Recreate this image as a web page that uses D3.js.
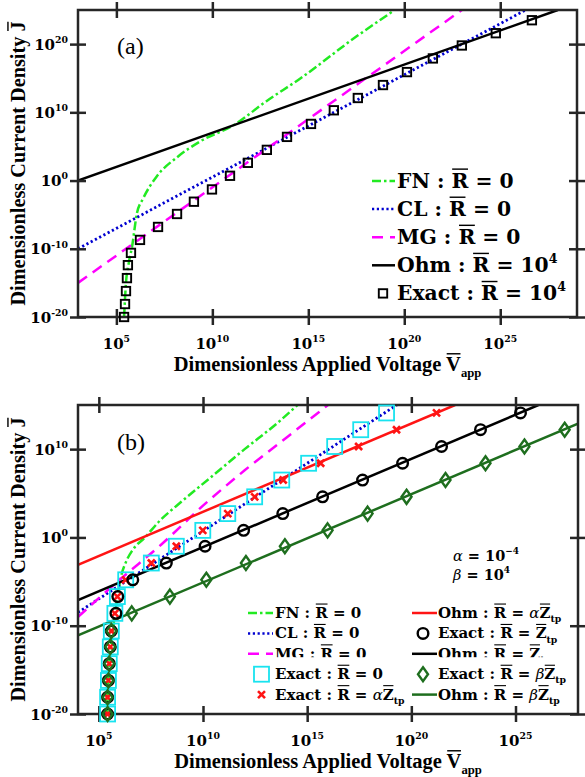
<!DOCTYPE html>
<html><head><meta charset="utf-8">
<script src="https://cdn.jsdelivr.net/npm/d3@7"></script>
<style>body{margin:0;background:#fff}</style>
</head><body>
<svg id="c" width="585" height="777" xmlns="http://www.w3.org/2000/svg"></svg>
<script>
// ================= DATA (log10 exponents) =================
const xTickExp  = [5, 10, 15, 20, 25];
const yTickExpA = [-20, -10, 0, 10, 20];
const yTickExpB = [-20, -10, 0, 10];

// ---- Panel (a) ----
const fnA_logV = [5.40, 5.50, 5.65, 5.81, 6.07, 6.40, 7.10, 8.20, 9.40, 11.1, 12.8, 14.6, 17.5, 19.4];
const fnA_logJ = [-20, -15, -12, -9.8, -4.8, -2.6, 0.6, 3.5, 5.8, 8.1, 11.6, 15.0, 21.1, 24.8];
const clA_logV = [3, 26.33];
const clA_logJ = [-10, 25];
const mgA_logV = [3, 23];
const mgA_logJ = [-15, 25];
const ohmA_logV = [3, 28];
const ohmA_logJ = [0, 25];
const exactA_logV = [5.40, 5.45, 5.50, 5.55, 5.60, 5.76, 6.23, 7.17, 8.16, 9.04, 9.98, 10.92, 11.85, 12.84, 13.89, 15.14, 16.33, 17.58, 18.89, 20.14, 21.49, 23.0, 24.77, 26.65];
const exactA_logJ = [-20, -18.1, -16.2, -14.3, -12.4, -10.6, -8.7, -6.8, -4.9, -3.1, -1.3, 0.7, 2.6, 4.5, 6.4, 8.3, 10.3, 12.1, 14.0, 15.9, 17.9, 19.8, 21.6, 23.5];

// ---- Panel (b) ----
const fnB_logV = [5.40, 5.45, 5.55, 5.70, 5.85, 6.06, 6.30, 6.63, 7.21, 7.97, 8.79, 10.37, 12.0, 13.59, 14.4, 15.0];
const fnB_logJ = [-20, -16, -13, -10, -7.5, -4.5, -2.8, -1.4, 0.0, 2.0, 3.7, 6.8, 10.0, 13.0, 14.7, 16];
const clB_logV = [4, 19.3];
const clB_logJ = [-8.5, 15];
const mgB_logV = [4, 6, 8, 10, 12, 14, 16];
const mgB_logJ = [-9, -4.8, -0.8, 3.6, 7.6, 11.3, 15];
const ohmRedB_logV = [4, 22.1];
const ohmRedB_logJ = [-3.1, 15];
const ohmBlackB_logV = [4, 26.1];
const ohmBlackB_logJ = [-7.1, 15];
const ohmGreenB_logV = [4, 28];
const ohmGreenB_logJ = [-11.1, 12.9];
const exactB_logJ = [-20, -18.1, -16.2, -14.3, -12.4, -10.6, -8.6, -6.7, -4.8, -2.9, -1.0, 0.8, 2.7, 4.6, 6.5, 8.4, 10.3, 12.2, 14.1];
const exact0B_logV     = [5.42, 5.42, 5.46, 5.50, 5.55, 5.60, 5.77, 5.89, 6.29, 7.52, 8.72, 9.99, 11.19, 12.48, 13.78, 15.07, 16.32, 17.57, 18.81];
const exactAlphaB_logV = [5.42, 5.42, 5.46, 5.50, 5.55, 5.60, 5.77, 5.89, 6.29, 7.52, 8.72, 9.99, 11.19, 12.48, 13.85, 15.65, 17.47, 19.29, 21.21];
const exactZB_logV     = [5.42, 5.42, 5.46, 5.50, 5.55, 5.60, 5.82, 5.91, 6.63, 8.24, 10.1, 11.95, 13.83, 15.74, 17.66, 19.58, 21.45, 23.32, 25.24];
const exactBetaB_logV  = [5.42, 5.42, 5.46, 5.50, 5.55, 5.60, 6.58, 8.41, 10.16, 12.06, 13.93, 15.98, 17.9, 19.77, 21.64, 23.56, 25.43, 27.36];

// ================= STYLE =================
const C_FN = '#22ea22', C_CL = '#0000d0', C_MG = '#ff00ff', C_RED = '#ff1414',
      C_DKG = '#1e6e1e', C_CYAN = '#19e3ef', C_AX = '#262626';
const D_FN = '9,3,2.5,3', D_CL = '2.2,2.6', D_MG = '11,7';
const SERIF = "'DejaVu Serif', serif";
const TIMES = "'Liberation Serif', 'Times New Roman', serif";

const svg = d3.select('#c');
const defs = svg.append('defs');
const toPts = (lv, lj) => lv.map((v, i) => [Math.pow(10, v), Math.pow(10, lj[i])]);

// rich text with superscript / subscript / overline
function rich(parent, x, y, segs, o) {
  const size = o.size;
  const t = parent.append('text').attr('x', x).attr('y', y)
    .attr('font-size', size).attr('font-family', o.family || SERIF)
    .attr('font-weight', o.weight || 'bold').attr('text-anchor', o.anchor || 'start')
    .attr('fill', o.fill || '#000');
  let shift = 0, idx = 0;
  const overs = [];
  segs.forEach(s => {
    const sp = t.append('tspan').text(s.t);
    let target = 0, fs = size;
    if (s.sup) { target = -size * 0.45; fs = size * 0.62; }
    if (s.sub) { target = size * 0.28; fs = size * 0.62; }
    sp.attr('font-size', fs);
    if (target !== shift) { sp.attr('dy', target - shift); shift = target; }
    if (s.it) sp.attr('font-style', 'italic').attr('font-weight', 'normal');
    if (s.over) overs.push([idx, idx + s.t.length - 1, fs]);
    idx += s.t.length;
  });
  const n = t.node();
  overs.forEach(([a, b, fs]) => {
    const p0 = n.getStartPositionOfChar(a), p1 = n.getEndPositionOfChar(b);
    const yy = p0.y - fs * (o.overK || 0.93);
    parent.append('line').attr('x1', p0.x + fs * 0.03).attr('x2', p1.x - fs * 0.02)
      .attr('y1', yy).attr('y2', yy).attr('stroke', o.fill || '#000')
      .attr('stroke-width', Math.max(1.1, fs * 0.07));
  });
  return t;
}

function marker(g, kind, x, y) {
  if (kind === 'sqA') g.append('rect').attr('x', x - 4.2).attr('y', y - 4.2).attr('width', 8.4).attr('height', 8.4)
      .attr('fill', 'none').attr('stroke', '#000').attr('stroke-width', 1.9);
  else if (kind === 'sqC') g.append('rect').attr('x', x - 7.5).attr('y', y - 7.5).attr('width', 15).attr('height', 15)
      .attr('fill', 'none').attr('stroke', C_CYAN).attr('stroke-width', 1.8);
  else if (kind === 'x') g.append('path').attr('d', `M${x-3.5},${y-3.5}L${x+3.5},${y+3.5}M${x-3.5},${y+3.5}L${x+3.5},${y-3.5}`)
      .attr('stroke', C_RED).attr('stroke-width', 2.6).attr('fill', 'none');
  else if (kind === 'o') g.append('circle').attr('cx', x).attr('cy', y).attr('r', 5.3)
      .attr('fill', 'none').attr('stroke', '#000').attr('stroke-width', 2.4);
  else if (kind === 'd') g.append('path').attr('d', `M${x},${y-7}L${x+5},${y}L${x},${y+7}L${x-5},${y}Z`)
      .attr('fill', 'none').attr('stroke', C_DKG).attr('stroke-width', 2.4);
}

function drawPanel(o) {
  const [L, T, R, B] = o.box;
  const xs = d3.scaleLog().domain(o.xDom).range([L, R]);
  const ys = d3.scaleLog().domain(o.yDom).range([B, T]);
  defs.append('clipPath').attr('id', o.id).append('rect')
    .attr('x', L).attr('y', T).attr('width', R - L).attr('height', B - T);
  const plot = svg.append('g').attr('clip-path', `url(#${o.id})`);
  const line = d3.line().x(d => xs(d[0])).y(d => ys(d[1]));
  o.lines.forEach(s => {
    plot.append('path').datum(toPts(s.lv, s.lj))
      .attr('d', line.curve(s.curve || d3.curveLinear))
      .attr('fill', 'none').attr('stroke', s.color).attr('stroke-width', s.w || 2.5)
      .attr('stroke-dasharray', s.dash || null);
  });
  // frame
  svg.append('rect').attr('x', L).attr('y', T).attr('width', R - L).attr('height', B - T)
    .attr('fill', 'none').attr('stroke', C_AX).attr('stroke-width', 2.5);
  // cross ticks via d3 axes
  const xv = xTickExp.map(e => Math.pow(10, e));
  const yv = o.yTicks.map(e => Math.pow(10, e));
  const fixTicks = (sel, horiz) => {
    sel.select('.domain').remove();
    sel.selectAll('.tick text').remove();
    sel.selectAll('.tick line').attr(horiz ? 'y1' : 'x1', -8).attr(horiz ? 'y2' : 'x2', 8)
      .attr('stroke', C_AX).attr('stroke-width', 2.5);
  };
  fixTicks(svg.append('g').attr('transform', `translate(0,${B})`).call(d3.axisBottom(xs).tickValues(xv).tickFormat('')), true);
  fixTicks(svg.append('g').attr('transform', `translate(0,${T})`).call(d3.axisTop(xs).tickValues(xv).tickFormat('')), true);
  fixTicks(svg.append('g').attr('transform', `translate(${L},0)`).call(d3.axisLeft(ys).tickValues(yv).tickFormat('')), false);
  fixTicks(svg.append('g').attr('transform', `translate(${R},0)`).call(d3.axisRight(ys).tickValues(yv).tickFormat('')), false);
  // tick labels
  xTickExp.forEach(e => rich(svg, xs(Math.pow(10, e)), B + 31.5, [{t: '10'}, {t: String(e), sup: true}], {size: 15, anchor: 'middle'}));
  o.yTicks.forEach(e => rich(svg, L - 10, ys(Math.pow(10, e)) + 5.5, [{t: '10'}, {t: String(e), sup: true}], {size: 15, anchor: 'end'}));
  // markers (not clipped)
  const mg = svg.append('g');
  o.markers.forEach(m => toPts(m.lv, m.lj).forEach(p => marker(mg, m.kind, xs(p[0]), ys(p[1]))));
  // axis titles
  rich(svg, (L + R) / 2, B + 54, [{t: 'Dimensionless Applied Voltage '}, {t: 'V', over: true}, {t: 'app', sub: true}],
       {size: 20.5, family: TIMES, anchor: 'middle', overK: 0.84});
  const yl = svg.append('g').attr('transform', `translate(25,${(T + B) / 2}) rotate(-90)`);
  rich(yl, 0, 0, [{t: 'Dimensionless Current Density '}, {t: 'J', over: true}],
       {size: 20.3, family: TIMES, anchor: 'middle', overK: 0.84});
  // panel tag
  svg.append('text').attr('x', L + 39).attr('y', o.tagY).attr('font-family', TIMES).attr('font-size', 24).text(o.tag);
  return {xs, ys};
}

// ---------------- Panel (a) ----------------
drawPanel({
  id: 'clipA', box: [78, 10, 577, 317], xDom: [1e3, 1e29], yDom: [1e-20, 1e25], yTicks: yTickExpA,
  tag: '(a)', tagY: 54,
  lines: [
    {lv: fnA_logV, lj: fnA_logJ, color: C_FN, dash: D_FN, curve: d3.curveMonotoneX},
    {lv: clA_logV, lj: clA_logJ, color: C_CL, dash: D_CL, w: 2.8},
    {lv: mgA_logV, lj: mgA_logJ, color: C_MG, dash: D_MG},
    {lv: ohmA_logV, lj: ohmA_logJ, color: '#000'}
  ],
  markers: [{lv: exactA_logV, lj: exactA_logJ, kind: 'sqA'}]
});

// legend (a)
const legA = [
  {s: 'line', color: C_FN, dash: D_FN, segs: [{t: 'FN : '}, {t: 'R', over: true}, {t: ' = 0'}]},
  {s: 'line', color: C_CL, dash: D_CL, segs: [{t: 'CL : '}, {t: 'R', over: true}, {t: ' = 0'}]},
  {s: 'line', color: C_MG, dash: D_MG, segs: [{t: 'MG : '}, {t: 'R', over: true}, {t: ' = 0'}]},
  {s: 'line', color: '#000', dash: null, segs: [{t: 'Ohm : '}, {t: 'R', over: true}, {t: ' = 10'}, {t: '4', sup: true}]},
  {s: 'sqA', segs: [{t: 'Exact : '}, {t: 'R', over: true}, {t: ' = 10'}, {t: '4', sup: true}]}
];
legA.forEach((e, i) => {
  const yb = 188 + i * 28.1, yc = yb - 7;
  if (e.s === 'line') svg.append('line').attr('x1', 372).attr('x2', 395).attr('y1', yc).attr('y2', yc)
      .attr('stroke', e.color).attr('stroke-width', 2.5).attr('stroke-dasharray', e.dash);
  else marker(svg, e.s, 383, yc);
  rich(svg, 397, yb, e.segs, {size: 20.3});
});

// ---------------- Panel (b) ----------------
drawPanel({
  id: 'clipB', box: [78, 405, 578, 714], xDom: [1e4, 1e28], yDom: [1e-20, 1e15], yTicks: yTickExpB,
  tag: '(b)', tagY: 450,
  lines: [
    {lv: fnB_logV, lj: fnB_logJ, color: C_FN, dash: D_FN, curve: d3.curveMonotoneX},
    {lv: clB_logV, lj: clB_logJ, color: C_CL, dash: D_CL, w: 2.8},
    {lv: mgB_logV, lj: mgB_logJ, color: C_MG, dash: D_MG, curve: d3.curveMonotoneX},
    {lv: ohmRedB_logV, lj: ohmRedB_logJ, color: C_RED},
    {lv: ohmBlackB_logV, lj: ohmBlackB_logJ, color: '#000'},
    {lv: ohmGreenB_logV, lj: ohmGreenB_logJ, color: C_DKG}
  ],
  markers: [
    {lv: exact0B_logV, lj: exactB_logJ, kind: 'sqC'},
    {lv: exactAlphaB_logV, lj: exactB_logJ, kind: 'x'},
    {lv: exactZB_logV, lj: exactB_logJ, kind: 'o'},
    {lv: exactBetaB_logV, lj: exactB_logJ.slice(0, exactBetaB_logV.length), kind: 'd'}
  ]
});

// alpha / beta note
rich(svg, 453, 561, [{t: 'α', it: true}, {t: ' = 10'}, {t: '−4', sup: true}], {size: 14.5});
rich(svg, 453, 580, [{t: 'β', it: true}, {t: ' = 10'}, {t: '4', sup: true}], {size: 14.5});

// legend (b)
const legBLeft = [
  {s: 'line', color: C_FN, dash: D_FN, segs: [{t: 'FN : '}, {t: 'R', over: true}, {t: ' = 0'}]},
  {s: 'line', color: C_CL, dash: D_CL, segs: [{t: 'CL : '}, {t: 'R', over: true}, {t: ' = 0'}]},
  {s: 'line', color: C_MG, dash: D_MG, segs: [{t: 'MG : '}, {t: 'R', over: true}, {t: ' = 0'}]},
  {s: 'sqC', segs: [{t: 'Exact : '}, {t: 'R', over: true}, {t: ' = 0'}]},
  {s: 'x', segs: [{t: 'Exact : '}, {t: 'R', over: true}, {t: ' = '}, {t: 'α', it: true}, {t: 'Z', over: true}, {t: 'tp', sub: true}]}
];
const legBRight = [
  {s: 'line', color: C_RED, segs: [{t: 'Ohm : '}, {t: 'R', over: true}, {t: ' = '}, {t: 'α', it: true}, {t: 'Z', over: true}, {t: 'tp', sub: true}]},
  {s: 'o', segs: [{t: 'Exact : '}, {t: 'R', over: true}, {t: ' = '}, {t: 'Z', over: true}, {t: 'tp', sub: true}]},
  {s: 'line', color: '#000', segs: [{t: 'Ohm : '}, {t: 'R', over: true}, {t: ' = '}, {t: 'Z', over: true}, {t: 'tp', sub: true}]},
  {s: 'd', segs: [{t: 'Exact : '}, {t: 'R', over: true}, {t: ' = '}, {t: 'β', it: true}, {t: 'Z', over: true}, {t: 'tp', sub: true}]},
  {s: 'line', color: C_DKG, segs: [{t: 'Ohm : '}, {t: 'R', over: true}, {t: ' = '}, {t: 'β', it: true}, {t: 'Z', over: true}, {t: 'tp', sub: true}]}
];
function legendCol(entries, x0, x1, mx, tx) {
  entries.forEach((e, i) => {
    const yb = 618 + i * 20.4, yc = yb - 5;
    const g = svg.append('g');
    if (i === 3) {
      // white text background that hides lower part of previous row (as in the original)
      g.append('rect').attr('class', 'bg').attr('fill', '#fff');
    }
    if (e.s === 'line') g.append('line').attr('x1', x0).attr('x2', x1).attr('y1', yc).attr('y2', yc)
        .attr('stroke', e.color).attr('stroke-width', 2.5).attr('stroke-dasharray', e.dash || null);
    else marker(g, e.s, mx, yc);
    const t = rich(g, tx, yb, e.segs, {size: 15});
    if (i === 3) {
      const bb = t.node().getBBox();
      g.select('rect.bg').attr('x', tx - 1).attr('y', yb - 22).attr('width', bb.width + 4).attr('height', 27);
    }
  });
}
legendCol(legBLeft, 248, 273, 261.5, 275);
legendCol(legBRight, 412, 437, 423, 438);
</script>
</body></html>
